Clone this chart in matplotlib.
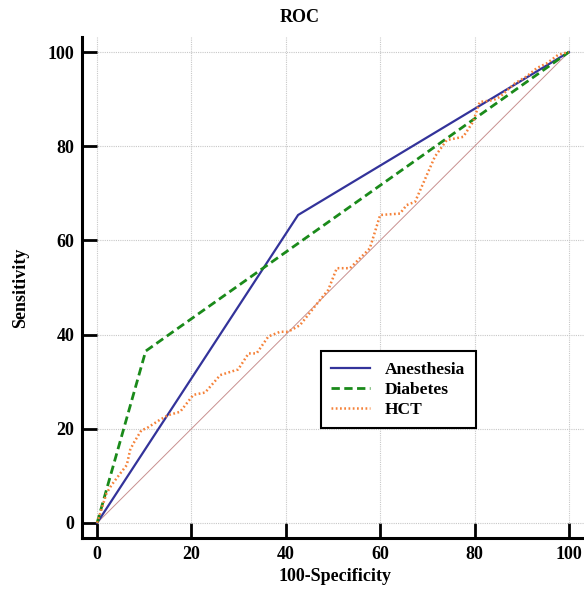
import matplotlib
matplotlib.use("Agg")
import matplotlib.pyplot as plt

# Data
anesthesia_x = [0, 42.6, 100]
anesthesia_y = [0, 65.4, 100]

diabetes_x = [0, 10.3, 100]
diabetes_y = [0, 36.5, 100]

hct_x = [0, 2.0, 3.1, 4.9, 6.3, 7.0, 7.7, 9.4, 10.5, 13.3, 15.1, 17.6, 20.4, 22.9,
         26.1, 29.9, 32.1, 33.8, 36.3, 38.8, 40.5, 43.0, 47.2, 49.0, 50.8, 53.6,
         57.8, 60.0, 64.2, 65.6, 67.4, 71.6, 74.1, 77.6, 79.7, 81.1, 84.0, 85.4,
         88.6, 91.0, 93.2, 95.3, 97.7, 99.5, 100]
hct_y = [0, 6.3, 8.1, 10.5, 12.3, 15.5, 16.9, 19.7, 20.1, 21.9, 22.9, 23.6, 27.2, 27.7,
         31.4, 32.6, 36.0, 36.0, 39.6, 40.6, 40.6, 42.0, 47.3, 49.5, 54.1, 54.1,
         58.3, 65.4, 65.7, 67.5, 68.2, 77.8, 81.3, 82.0, 85.2, 89.4, 89.8, 90.5,
         93.4, 94.8, 96.6, 97.6, 99.4, 99.9, 100]

ref_x = [0, 100]
ref_y = [0, 100]

ticks = [0, 20, 40, 60, 80, 100]

plt.rcParams['font.family'] = ['Liberation Serif', 'DejaVu Serif']
plt.rcParams['font.weight'] = 'bold'

fig = plt.figure(figsize=(5.84, 5.90), dpi=100)
ax = fig.add_axes([82/584, 52/590, 502/584, 501/590])

ax.plot(ref_x, ref_y, color='#c89090', lw=0.7, zorder=2)
ax.plot(anesthesia_x, anesthesia_y, color='#33339a', lw=1.6, label='Anesthesia', zorder=3)
ax.plot(diabetes_x, diabetes_y, color='#1a8a1a', lw=2.0, ls=(0, (3.0, 1.6)), label='Diabetes', zorder=3)
ax.plot(hct_x, hct_y, color='#f5823a', lw=1.8, ls=(0, (0.7, 1.0)), label='HCT', zorder=4)

ax.set_xlim(-3.2, 103.2)
ax.set_ylim(-3.2, 103.2)
ax.set_xticks(ticks)
ax.set_yticks(ticks)
ax.grid(True, color='#c8c8c8', ls=(0, (1, 1)), lw=0.8)
ax.set_axisbelow(True)

for s in ['top', 'right']:
    ax.spines[s].set_visible(False)
for s in ['left', 'bottom']:
    ax.spines[s].set_linewidth(2.2)

ax.tick_params(direction='in', length=11, width=2, labelsize=13, pad=5.5)
for lab in ax.get_xticklabels() + ax.get_yticklabels():
    lab.set_fontweight('bold')

ax.set_xlabel('100-Specificity', fontsize=13, fontweight='bold')
ax.set_ylabel('Sensitivity', fontsize=13, fontweight='bold')
ax.xaxis.set_label_coords(0.504, -0.06)
ax.yaxis.set_label_coords(-0.106, 0.5)

fig.text(300/584, 1 - 18/590, 'ROC', ha='center', va='center', fontsize=13, fontweight='bold')

leg = ax.legend(loc='upper left', bbox_to_anchor=(0.476, 0.373), fancybox=False,
                edgecolor='black', framealpha=1, fontsize=12.5, handlelength=2.2,
                borderpad=0.6, labelspacing=0.22, handletextpad=0.9, borderaxespad=0)
leg.get_frame().set_linewidth(1.5)
for t in leg.get_texts():
    t.set_fontweight('bold')

fig.savefig('out.png', dpi=100)
